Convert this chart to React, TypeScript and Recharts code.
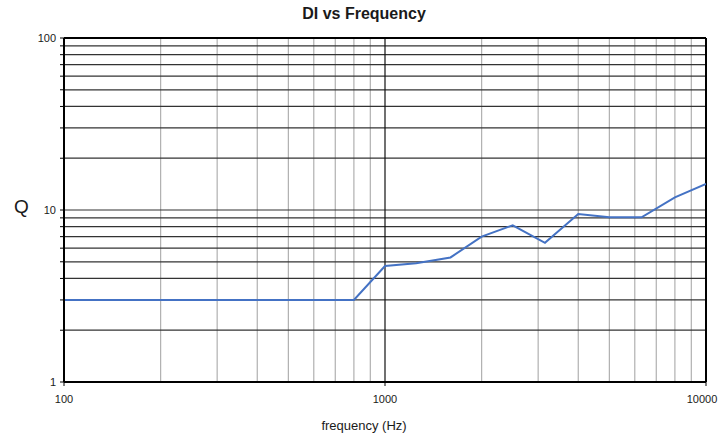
import { LineChart, Line, XAxis, YAxis, ReferenceLine } from 'recharts';

const frequencies = [100, 125, 160, 200, 250, 315, 400, 500, 630, 800, 1000, 1250, 1600, 2000, 2500, 3150, 4000, 5000, 6300, 8000, 10000];
const qValues = [3, 3, 3, 3, 3, 3, 3, 3, 3, 3, 4.72, 4.9, 5.3, 7.0, 8.15, 6.45, 9.48, 9.07, 9.07, 11.85, 14.2];

const xTicks = [100, 1000, 10000];
const xMinorGrid = [200, 300, 400, 500, 600, 700, 800, 900, 2000, 3000, 4000, 5000, 6000, 7000, 8000, 9000];
const xMajorGrid = [1000];
const yTicks = [1, 2, 3, 4, 5, 6, 7, 8, 9, 10, 20, 30, 40, 50, 60, 70, 80, 90, 100];
const yLabels = [1, 10, 100];
const yGrid = [2, 3, 4, 5, 6, 7, 8, 9, 10, 20, 30, 40, 50, 60, 70, 80, 90];

const data = frequencies.map((f, i) => ({ f, q: qValues[i] }));

const font = '"Liberation Sans", Arial, sans-serif';

function XTick({ x, y, payload }: any) {
  return (
    <text x={x} y={y + 15} textAnchor="middle" fontSize={11} fontFamily={font} fill="#1a1a1a">
      {payload.value}
    </text>
  );
}

function YTick({ x, y, payload }: any) {
  if (!yLabels.includes(payload.value)) return null;
  return (
    <text x={x - 2} y={y + 4} textAnchor="end" fontSize={11} fontFamily={font} fill="#1a1a1a">
      {payload.value}
    </text>
  );
}

export default function App() {
  return (
    <div style={{ position: 'absolute', left: 0, top: 0, width: 722, height: 438, background: '#fff', fontFamily: font, color: '#1a1a1a' }}>
      <div style={{ position: 'absolute', left: 0, width: 728, top: 5, textAlign: 'center', fontSize: 16, fontWeight: 'bold' }}>
        DI vs Frequency
      </div>
      <div style={{ position: 'absolute', left: 14, top: 196, fontSize: 19 }}>Q</div>
      <div style={{ position: 'absolute', left: 0, width: 728, top: 418, textAlign: 'center', fontSize: 13 }}>
        frequency (Hz)
      </div>
      <LineChart width={722} height={438} data={data} margin={{ top: 38, right: 16, left: 4, bottom: 26 }}>
        {xMinorGrid.map((v) => (
          <ReferenceLine key={'xm' + v} x={v} stroke="#b0b0b0" strokeWidth={1.2} />
        ))}
        {yGrid.map((v) => (
          <ReferenceLine key={'y' + v} y={v} stroke="#333" strokeWidth={1.2} />
        ))}
        {xMajorGrid.map((v) => (
          <ReferenceLine key={'xM' + v} x={v} stroke="#111" strokeWidth={1.2} />
        ))}
        <ReferenceLine x={10000} stroke="#000" strokeWidth={2} />
        <ReferenceLine y={100} stroke="#000" strokeWidth={2} />
        <XAxis
          dataKey="f"
          type="number"
          scale="log"
          domain={[100, 10000]}
          ticks={xTicks}
          allowDataOverflow
          height={30}
          axisLine={{ stroke: '#000', strokeWidth: 2 }}
          tickLine={{ stroke: '#000' }}
          tickSize={4}
          tick={<XTick />}
        />
        <YAxis
          type="number"
          scale="log"
          domain={[1, 100]}
          ticks={yTicks}
          allowDataOverflow
          width={60}
          interval={0}
          axisLine={{ stroke: '#000', strokeWidth: 2 }}
          tickLine={{ stroke: '#000' }}
          tickSize={4}
          tick={<YTick />}
        />
        <Line
          type="linear"
          dataKey="q"
          stroke="#4472C4"
          strokeWidth={2}
          dot={false}
          isAnimationActive={false}
        />
      </LineChart>
    </div>
  );
}
